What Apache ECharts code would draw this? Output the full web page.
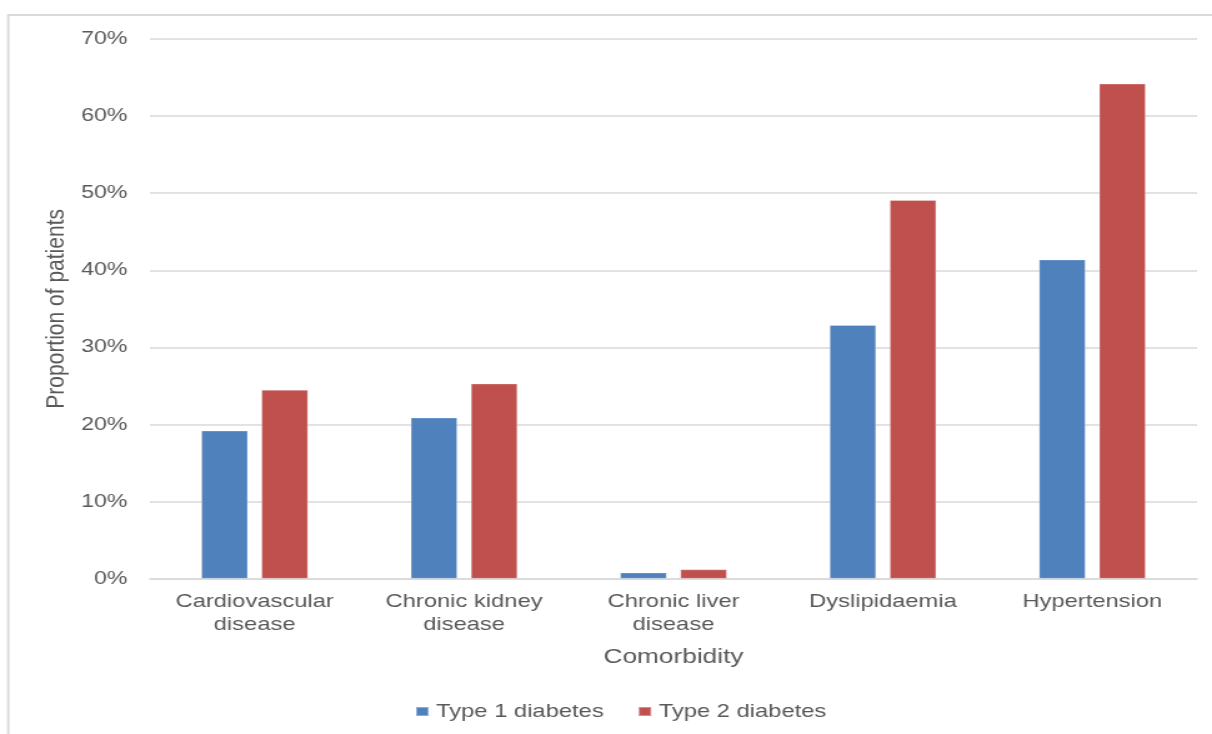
<!DOCTYPE html>
<html>
<head>
<meta charset="utf-8">
<title>Comorbidities by diabetes type</title>
<script src="https://cdn.jsdelivr.net/npm/echarts@6/dist/echarts.min.js"></script>
<style>
  html, body { margin: 0; padding: 0; background: #ffffff; overflow: hidden; }
  /* The chart is laid out on a narrower canvas and widened to the window,
     which gives the broad, wide-set lettering of the exported figure. */
  #chart { width: 970px; height: 734px; transform: scaleX(1.2495); transform-origin: 0 0; }
</style>
</head>
<body>
<div id="chart"></div>
<script>
// Comorbidity categories (x axis)
const categories = [
  'Cardiovascular disease',
  'Chronic kidney disease',
  'Chronic liver disease',
  'Dyslipidaemia',
  'Hypertension'
];

// Proportion of patients with each comorbidity, in percent
const type1Diabetes = [19.2, 20.9, 0.8, 32.9, 41.4];
const type2Diabetes = [24.5, 25.3, 1.2, 49.1, 64.2];

// Series names shown in the legend
const seriesNames = ['Type 1 diabetes', 'Type 2 diabetes'];

// Axis titles
const xTitle = 'Comorbidity';
const yTitle = 'Proportion of patients';

// Value axis range and step (percent)
const yMin = 0;
const yMax = 70;
const yStep = 10;

const FONT = "'Liberation Sans', Arial, Helvetica, sans-serif";
const TEXT = '#595959';
const GRID = '#d9d9d9';

// Plot area edges
const GRID_TOP = 39;
const GRID_BOTTOM = 155.3;
const CHART_H = 734;

// Break a multi-word category onto two lines at its last space
function wrapLabel(name) {
  const i = name.lastIndexOf(' ');
  return i > 0 ? name.slice(0, i) + '\n' + name.slice(i + 1) : name;
}

const chart = echarts.init(document.getElementById('chart'), null, { renderer: 'canvas' });

chart.setOption({
  backgroundColor: '#ffffff',
  animation: false,
  color: ['#4f81bd', '#c0504d'],
  graphic: [
    {
      // outer chart frame (top and left edges are visible)
      type: 'rect',
      silent: true,
      shape: { x: 6.6, y: 15, width: 2000, height: 2000 },
      style: { fill: 'none', stroke: GRID, lineWidth: 1.8 }
    },
    {
      // vertical value-axis title, centred on the plot height
      type: 'text',
      silent: true,
      x: 45.5,
      y: (GRID_TOP + (CHART_H - GRID_BOTTOM)) / 2,
      rotation: Math.PI / 2,
      style: {
        text: yTitle,
        fontFamily: FONT,
        fontSize: 21,
        fill: TEXT,
        align: 'center',
        verticalAlign: 'middle'
      }
    }
  ],
  grid: { left: 120, right: 12, top: GRID_TOP, bottom: GRID_BOTTOM, containLabel: false },
  legend: {
    data: seriesNames,
    left: 327,
    top: 697,
    itemWidth: 10,
    itemHeight: 9,
    itemGap: 27,
    icon: 'rect',
    textStyle: { fontFamily: FONT, fontSize: 19, color: TEXT, padding: [0, 0, 0, 1] }
  },
  xAxis: {
    type: 'category',
    data: categories,
    name: xTitle,
    nameLocation: 'middle',
    nameGap: 68,
    nameTextStyle: { fontFamily: FONT, fontSize: 21, color: TEXT },
    axisLine: { show: true, lineStyle: { color: GRID, width: 1.6 } },
    axisTick: { show: false },
    axisLabel: {
      fontFamily: FONT, fontSize: 19, color: TEXT,
      lineHeight: 23, margin: 12, interval: 0,
      formatter: wrapLabel
    },
    splitLine: { show: false }
  },
  yAxis: {
    type: 'value',
    min: yMin,
    max: yMax,
    interval: yStep,
    axisLine: { show: false },
    axisTick: { show: false },
    axisLabel: {
      fontFamily: FONT, fontSize: 18.5, color: TEXT, margin: 18,
      formatter: '{value}%'
    },
    splitLine: { show: true, lineStyle: { color: GRID, width: 1.6 } }
  },
  series: [
    {
      name: seriesNames[0],
      type: 'bar',
      data: type1Diabetes,
      barGap: '29%',
      barCategoryGap: '49%',
      itemStyle: { borderColor: 'rgba(255,255,255,0.35)', borderWidth: 0.8 }
    },
    {
      name: seriesNames[1],
      type: 'bar',
      data: type2Diabetes,
      barGap: '29%',
      barCategoryGap: '49%',
      itemStyle: { borderColor: 'rgba(255,255,255,0.35)', borderWidth: 0.8 }
    }
  ]
});
</script>
</body>
</html>
